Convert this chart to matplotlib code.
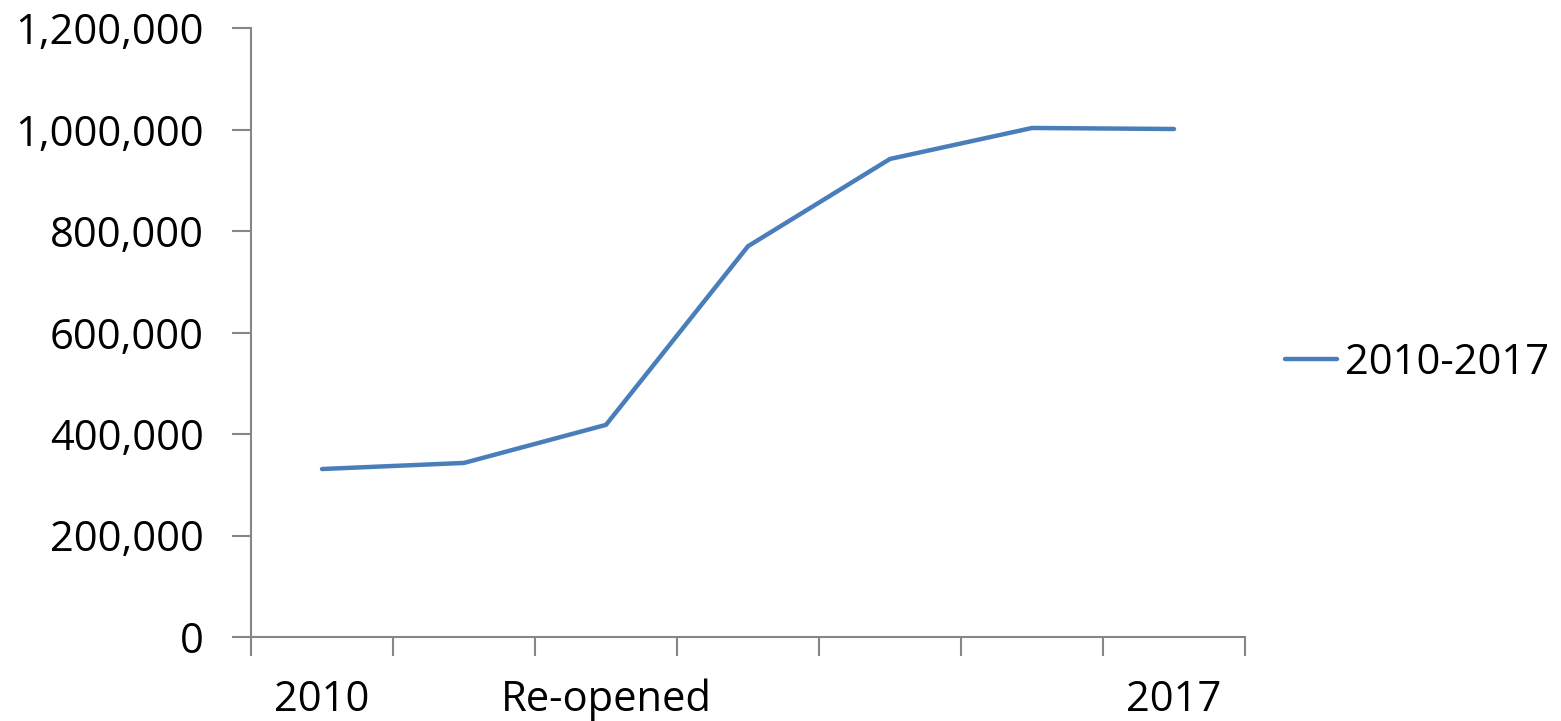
import numpy as np
import matplotlib.pyplot as plt
from matplotlib.ticker import FuncFormatter

# visitors per year, 2010 to 2017
categories = ["2010", "", "Re-opened", "", "", "", "2017"]
values = [331000, 343000, 418000, 770000, 942000, 1003000, 1001000]
series_name = "2010-2017"

plt.rcParams['font.family'] = ['Open Sans', 'DejaVu Sans']
fs = 30

fig = plt.figure(figsize=(15.61, 7.21), dpi=100)
ax = fig.add_axes([251 / 1561, 1 - 637 / 721, (1245 - 251) / 1561, (637 - 28) / 721])

x = np.arange(len(values)) + 0.5
ax.plot(x, values, color='#4a7ebb', lw=3.2, solid_capstyle='round', label=series_name)

ax.set_xlim(0, len(values))
ax.set_ylim(0, 1200000)
ax.set_yticks(np.arange(0, 1200001, 200000))
ax.yaxis.set_major_formatter(FuncFormatter(lambda v, p: f"{int(v):,}"))

# category boundaries as major ticks, labels on the category centres
ax.set_xticks(np.arange(0, len(values) + 1))
ax.set_xticklabels([])
ax.set_xticks(x, minor=True)
ax.set_xticklabels(categories, minor=True)
ax.tick_params(axis='x', which='minor', length=0, pad=30, labelsize=fs)
ax.tick_params(axis='x', which='major', length=14, width=1.5, color='#868686', direction='out')
ax.tick_params(axis='y', length=14, width=1.5, color='#868686', pad=20, labelsize=fs)

for s in ['top', 'right']:
    ax.spines[s].set_visible(False)
for s in ['left', 'bottom']:
    ax.spines[s].set_color('#868686')
    ax.spines[s].set_linewidth(1.5)

ax.legend(loc='center left', bbox_to_anchor=(1285 / 1561, 1 - 363 / 721),
          bbox_transform=fig.transFigure, frameon=False, fontsize=fs,
          handlelength=1.25, handletextpad=0.2, borderpad=0, borderaxespad=0)

fig.savefig('out.png', dpi=100)
